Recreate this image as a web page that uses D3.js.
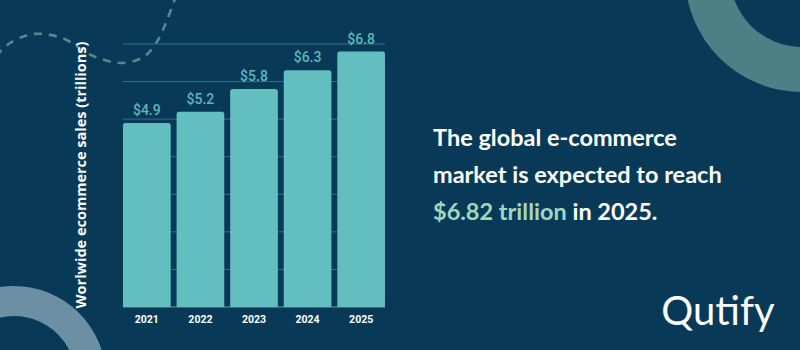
<!DOCTYPE html>
<html>
<head>
<meta charset="utf-8">
<script src="https://cdn.jsdelivr.net/npm/d3@7"></script>
<style>
  html, body { margin: 0; padding: 0; background: #083a57; }
  svg { display: block; }
</style>
</head>
<body>
<svg id="chart" width="800" height="350"></svg>
<script>
// Worldwide e-commerce sales, trillions of US dollars
const years = ["2021", "2022", "2023", "2024", "2025"];
const sales = [4.9, 5.2, 5.8, 6.3, 6.8];
const valueLabels = ["$4.9", "$5.2", "$5.8", "$6.3", "$6.8"];
const gridTicks = [0, 1, 2, 3, 4, 5, 6, 7];
const yTitle = "Worlwide ecommerce sales (trillions)";
const headline = ["The global e-commerce", "market is expected to reach"];
const highlight = "$6.82 trillion";
const highlightTail = " in 2025.";
const brand = "Qutify";

const W = 800, H = 350;
const svg = d3.select("#chart");

// background
svg.append("rect").attr("width", W).attr("height", H).attr("fill", "#083a57");

// decorative rings
const arc = d3.arc();
svg.append("path")
  .attr("transform", "translate(802,-25)")
  .attr("d", arc({innerRadius: 72, outerRadius: 117, startAngle: 0, endAngle: 2 * Math.PI}))
  .attr("fill", "#4b8186");
svg.append("path")
  .attr("transform", "translate(14,378)")
  .attr("d", arc({innerRadius: 62, outerRadius: 92, startAngle: 0, endAngle: 2 * Math.PI}))
  .attr("fill", "#6c8fa4");

// decorative dashed wave
const wave = [[-4, 56], [10, 43], [33, 34], [62, 38], [93, 56], [123, 63], [145, 56], [158, 40], [167, 20], [176, -4]];
svg.append("path")
  .attr("d", d3.line().curve(d3.curveCatmullRom)(wave))
  .attr("fill", "none")
  .attr("stroke", "#4f8a8c")
  .attr("stroke-width", 2.6)
  .attr("stroke-dasharray", "8,7");

// scales
const x = d3.scaleBand().domain(years).range([123, 385]).paddingInner(0.11).paddingOuter(0);
const y = d3.scaleLinear().domain([0, 7]).range([307, 44]);

// gridlines
svg.append("g")
  .selectAll("line")
  .data(gridTicks)
  .join("line")
  .attr("x1", 123).attr("x2", 385)
  .attr("y1", d => y(d)).attr("y2", d => y(d))
  .attr("stroke", d => d === 0 ? "#5f9db0" : "#336f88")
  .attr("stroke-width", 1);

// bars
svg.append("g")
  .selectAll("path")
  .data(sales)
  .join("path")
  .attr("d", (d, i) => {
    const x0 = x(years[i]), w = x.bandwidth(), y0 = y(d), y1 = y(0), r = 2.5;
    return `M${x0},${y1}V${y0 + r}Q${x0},${y0} ${x0 + r},${y0}H${x0 + w - r}Q${x0 + w},${y0} ${x0 + w},${y0 + r}V${y1}Z`;
  })
  .attr("fill", "#63bfbf");

// value labels
svg.append("g")
  .selectAll("text")
  .data(sales)
  .join("text")
  .attr("x", (d, i) => x(years[i]) + x.bandwidth() / 2)
  .attr("y", d => y(d) - 8)
  .attr("text-anchor", "middle")
  .attr("font-family", "Roboto, sans-serif")
  .attr("font-weight", 500)
  .attr("font-size", 14)
  .attr("fill", "#5cb7b9")
  .text((d, i) => valueLabels[i]);

// x axis labels
const xAxis = d3.axisBottom(x).tickSize(0).tickPadding(9);
const gx = svg.append("g").attr("transform", `translate(0,${y(0)})`).call(xAxis);
gx.select(".domain").remove();
gx.selectAll("text")
  .attr("font-family", "Roboto, sans-serif")
  .attr("font-weight", 700)
  .attr("font-size", 10.5)
  .attr("fill", "#ffffff");

// y axis title
svg.append("text")
  .attr("transform", "translate(86,175) rotate(-90)")
  .attr("text-anchor", "middle")
  .attr("font-family", "'Open Sans', sans-serif")
  .attr("font-weight", 700)
  .attr("font-size", 14.5)
  .attr("fill", "#ffffff")
  .text(yTitle);

// headline
const hl = svg.append("text")
  .attr("font-family", "Lato, sans-serif")
  .attr("font-weight", 700)
  .attr("font-size", 23.5)
  .attr("fill", "#ffffff");
headline.forEach((line, i) => {
  hl.append("tspan").attr("x", 433).attr("y", 146 + i * 37).text(line);
});
const last = hl.append("tspan").attr("x", 433).attr("y", 220);
last.append("tspan").attr("fill", "#9fd6c2").text(highlight);
last.append("tspan").text(highlightTail);

// brand mark
svg.append("text")
  .attr("x", 718).attr("y", 325)
  .attr("text-anchor", "middle")
  .attr("font-family", "Lato, sans-serif")
  .attr("font-weight", 400)
  .attr("font-size", 40)
  .attr("fill", "#ffffff")
  .text(brand);
</script>
</body>
</html>
